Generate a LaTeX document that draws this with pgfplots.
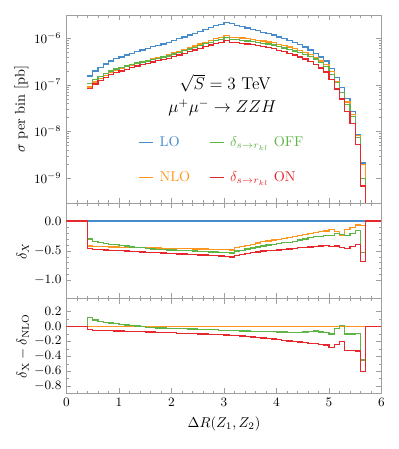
\documentclass[border=0pt]{standalone}
\usepackage{pgfplots}
\pgfplotsset{compat=1.18}
\usepackage{pgfplotstable}
\definecolor{cLO}{RGB}{70,140,205}
\definecolor{cNLO}{RGB}{255,150,30}
\definecolor{cOFF}{RGB}{95,180,70}
\definecolor{cON}{RGB}{230,40,45}

\pgfplotstableread{
x lo nlo off on
0.4 1.549e-7 8.98e-8 1.084e-7 8.36e-8
0.5 1.995e-7 1.147e-7 1.317e-7 1.047e-7
0.6 2.399e-7 1.367e-7 1.535e-7 1.247e-7
0.7 2.818e-7 1.606e-7 1.761e-7 1.451e-7
0.8 3.236e-7 1.828e-7 1.974e-7 1.650e-7
0.9 3.631e-7 2.052e-7 2.179e-7 1.834e-7
1.0 3.981e-7 2.229e-7 2.349e-7 1.991e-7
1.1 4.365e-7 2.444e-7 2.532e-7 2.161e-7
1.2 4.786e-7 2.656e-7 2.704e-7 2.345e-7
1.3 5.248e-7 2.913e-7 2.939e-7 2.545e-7
1.4 5.623e-7 3.093e-7 3.093e-7 2.699e-7
1.5 6.026e-7 3.314e-7 3.254e-7 2.862e-7
1.6 6.607e-7 3.601e-7 3.502e-7 3.105e-7
1.7 7.079e-7 3.858e-7 3.716e-7 3.292e-7
1.8 7.586e-7 4.096e-7 3.945e-7 3.490e-7
1.9 8.128e-7 4.389e-7 4.186e-7 3.698e-7
2.0 8.913e-7 4.813e-7 4.590e-7 4.055e-7
2.1 9.772e-7 5.228e-7 4.935e-7 4.349e-7
2.2 1.072e-6 5.735e-7 5.414e-7 4.770e-7
2.3 1.175e-6 6.286e-7 5.875e-7 5.170e-7
2.4 1.288e-6 6.826e-7 6.376e-7 5.603e-7
2.5 1.413e-6 7.489e-7 6.924e-7 6.076e-7
2.6 1.549e-6 8.210e-7 7.590e-7 6.661e-7
2.7 1.698e-6 8.915e-7 8.150e-7 7.132e-7
2.8 1.862e-6 9.776e-7 8.938e-7 7.727e-7
2.9 1.995e-6 1.037e-6 9.377e-7 8.180e-7
3.0 2.188e-6 1.138e-6 1.028e-6 8.861e-7
3.1 2.042e-6 1.052e-6 9.393e-7 8.066e-7
3.2 1.905e-6 1.048e-6 9.430e-7 8.096e-7
3.3 1.778e-6 1.013e-6 9.068e-7 7.823e-7
3.4 1.660e-6 9.794e-7 8.798e-7 7.553e-7
3.5 1.549e-6 9.449e-7 8.442e-7 7.280e-7
3.6 1.445e-6 9.104e-7 8.164e-7 6.936e-7
3.7 1.349e-6 8.769e-7 7.824e-7 6.678e-7
3.8 1.259e-6 8.372e-7 7.491e-7 6.295e-7
3.9 1.175e-6 7.990e-7 7.168e-7 5.993e-7
4.0 1.072e-6 7.450e-7 6.646e-7 5.521e-7
4.1 9.772e-7 6.938e-7 6.205e-7 5.130e-7
4.2 8.913e-7 6.462e-7 5.749e-7 4.724e-7
4.3 8.128e-7 6.015e-7 5.364e-7 4.389e-7
4.4 7.244e-7 5.505e-7 4.926e-7 3.984e-7
4.5 6.457e-7 5.004e-7 4.520e-7 3.584e-7
4.6 5.623e-7 4.442e-7 4.049e-7 3.177e-7
4.7 4.786e-7 3.853e-7 3.566e-7 2.752e-7
4.8 3.981e-7 3.264e-7 2.966e-7 2.309e-7
4.9 3.236e-7 2.702e-7 2.443e-7 1.893e-7
5.0 2.239e-7 1.914e-7 1.690e-7 1.287e-7
5.1 1.413e-7 1.159e-7 1.116e-7 8.195e-8
5.2 8.913e-8 6.774e-8 6.908e-8 4.991e-8
5.3 5.012e-8 4.310e-8 3.809e-8 2.706e-8
5.4 2.630e-8 2.341e-8 2.078e-8 1.499e-8
5.5 8.710e-9 8.144e-9 7.316e-9 5.270e-9
5.6 2.089e-9 1.922e-9 9.818e-10 6.685e-10
5.7 1e-15 1e-15 1e-15 1e-15
}\topdata

\pgfplotstableread{
x lo nlo off on
0.0 0 0 0 0
0.4 0 -0.42 -0.30 -0.46
0.5 0 -0.425 -0.34 -0.475
0.6 0 -0.43 -0.36 -0.48
0.7 0 -0.43 -0.375 -0.485
0.8 0 -0.435 -0.39 -0.49
0.9 0 -0.435 -0.40 -0.495
1.0 0 -0.44 -0.41 -0.50
1.1 0 -0.44 -0.42 -0.505
1.2 0 -0.445 -0.435 -0.51
1.3 0 -0.445 -0.44 -0.515
1.4 0 -0.45 -0.45 -0.52
1.5 0 -0.45 -0.46 -0.525
1.6 0 -0.455 -0.47 -0.53
1.7 0 -0.455 -0.475 -0.535
1.8 0 -0.46 -0.48 -0.54
1.9 0 -0.46 -0.485 -0.545
2.0 0 -0.46 -0.485 -0.545
2.1 0 -0.465 -0.495 -0.555
2.2 0 -0.465 -0.495 -0.555
2.3 0 -0.465 -0.50 -0.56
2.4 0 -0.47 -0.505 -0.565
2.5 0 -0.47 -0.51 -0.57
2.6 0 -0.47 -0.51 -0.57
2.7 0 -0.475 -0.52 -0.58
2.8 0 -0.475 -0.52 -0.585
2.9 0 -0.48 -0.53 -0.59
3.0 0 -0.48 -0.53 -0.595
3.1 0 -0.485 -0.54 -0.605
3.2 0 -0.45 -0.505 -0.575
3.3 0 -0.43 -0.49 -0.56
3.4 0 -0.41 -0.47 -0.545
3.5 0 -0.39 -0.455 -0.53
3.6 0 -0.37 -0.435 -0.52
3.7 0 -0.35 -0.42 -0.505
3.8 0 -0.335 -0.405 -0.50
3.9 0 -0.32 -0.39 -0.49
4.0 0 -0.305 -0.38 -0.485
4.1 0 -0.29 -0.365 -0.475
4.2 0 -0.275 -0.355 -0.47
4.3 0 -0.26 -0.34 -0.46
4.4 0 -0.24 -0.32 -0.45
4.5 0 -0.225 -0.30 -0.445
4.6 0 -0.21 -0.28 -0.435
4.7 0 -0.195 -0.255 -0.425
4.8 0 -0.18 -0.255 -0.42
4.9 0 -0.165 -0.245 -0.415
5.0 0 -0.145 -0.245 -0.425
5.1 0 -0.18 -0.21 -0.42
5.2 0 -0.24 -0.225 -0.44
5.3 0 -0.14 -0.24 -0.46
5.4 0 -0.11 -0.21 -0.43
5.5 0 -0.065 -0.16 -0.395
5.6 0 -0.08 -0.53 -0.68
5.7 0 0 0 0
6.0 0 0 0 0
}\middata

\pgfplotstableread{
x nlo off on
0.0 0 0 0
0.4 0 0.12 -0.04
0.5 0 0.085 -0.05
0.6 0 0.07 -0.05
0.7 0 0.055 -0.055
0.8 0 0.045 -0.055
0.9 0 0.035 -0.06
1.0 0 0.03 -0.06
1.1 0 0.02 -0.065
1.2 0 0.01 -0.065
1.3 0 0.005 -0.07
1.4 0 0.0 -0.07
1.5 0 -0.01 -0.075
1.6 0 -0.015 -0.075
1.7 0 -0.02 -0.08
1.8 0 -0.02 -0.08
1.9 0 -0.025 -0.085
2.0 0 -0.025 -0.085
2.1 0 -0.03 -0.09
2.2 0 -0.03 -0.09
2.3 0 -0.035 -0.095
2.4 0 -0.035 -0.095
2.5 0 -0.04 -0.1
2.6 0 -0.04 -0.1
2.7 0 -0.045 -0.105
2.8 0 -0.045 -0.11
2.9 0 -0.05 -0.11
3.0 0 -0.05 -0.115
3.1 0 -0.055 -0.12
3.2 0 -0.055 -0.125
3.3 0 -0.06 -0.13
3.4 0 -0.06 -0.135
3.5 0 -0.065 -0.14
3.6 0 -0.065 -0.15
3.7 0 -0.07 -0.155
3.8 0 -0.07 -0.165
3.9 0 -0.07 -0.17
4.0 0 -0.075 -0.18
4.1 0 -0.075 -0.185
4.2 0 -0.08 -0.195
4.3 0 -0.08 -0.2
4.4 0 -0.08 -0.21
4.5 0 -0.075 -0.22
4.6 0 -0.07 -0.225
4.7 0 -0.06 -0.23
4.8 0 -0.075 -0.24
4.9 0 -0.08 -0.25
5.0 0 -0.1 -0.28
5.1 0 -0.03 -0.24
5.2 0 0.015 -0.2
5.3 0 -0.1 -0.32
5.4 0 -0.1 -0.32
5.5 0 -0.095 -0.33
5.6 0 -0.45 -0.6
5.7 0 0 0
6.0 0 0 0
}\botdata

\begin{document}
\begin{tikzpicture}
\useasboundingbox (0,0) rectangle (279.3pt,314.3pt);
\pgfplotsset{common/.style={
  scale only axis, width=220.5pt,
  xmin=0, xmax=6, xtick={0,1,2,3,4,5,6}, minor x tick num=4,
  axis line style={gray!75}, tick style={gray!75},
  tick align=inside, major tick length=3.5pt, minor tick length=2pt,
  ticklabel style={font=\small},
  label style={font=\normalsize},
  ylabel shift=-3pt,
  every axis plot/.append style={line width=0.9pt},
}}

\begin{axis}[common, at={(46.55pt,303.8pt)}, anchor=north west, height=131.6pt,
  ymode=log, ymin=2.9e-10, ymax=3.16e-6, ytick={1e-9,1e-8,1e-7,1e-6},
  xticklabels={},
  ylabel={$\sigma$ per bin [pb]},
  legend columns=2, transpose legend, legend cell align=left,
  legend image code/.code={\draw[#1] (0pt,0pt) -- (10pt,0pt); \path (12pt,0pt);},
  legend style={draw=none, fill=none, at={(0.227,0.37)}, anchor=north west,
    inner sep=0pt, font=\normalsize, row sep=12pt,
    /tikz/every even column/.append style={column sep=11pt}},
]
\addplot[cLO, const plot] table[x=x,y=lo]{\topdata};
\addlegendentry{\textcolor{cLO}{LO}}
\addplot[cNLO, const plot] table[x=x,y=nlo]{\topdata};
\addlegendentry{\textcolor{cNLO}{NLO}}
\addplot[cOFF, const plot] table[x=x,y=off]{\topdata};
\addlegendentry{\textcolor{cOFF}{$\delta_{s\to r_{kl}}$ OFF}}
\addplot[cON, const plot] table[x=x,y=on]{\topdata};
\addlegendentry{\textcolor{cON}{$\delta_{s\to r_{kl}}$ ON}}
\node[font=\large] at (axis cs:3.02,1.1e-7) {$\sqrt{S}=3$ TeV};
\node[font=\large] at (axis cs:2.97,3.2e-8) {$\mu^+\mu^-\to ZZH$};
\end{axis}

\begin{axis}[common, at={(46.55pt,172.2pt)}, anchor=north west, height=66.85pt,
  ymin=-1.305, ymax=0.305, ytick={-1,-0.5,0}, minor y tick num=4,
  yticklabel style={/pgf/number format/.cd, fixed, fixed zerofill, precision=1},
  xticklabels={},
  ylabel={$\delta_X$},
]
\addplot[cLO, const plot] table[x=x,y=lo]{\middata};
\addplot[cNLO, const plot] table[x=x,y=nlo]{\middata};
\addplot[cOFF, const plot] table[x=x,y=off]{\middata};
\addplot[cON, const plot] table[x=x,y=on]{\middata};
\end{axis}

\begin{axis}[common, at={(46.55pt,105.35pt)}, anchor=north west, height=66.5pt,
  ymin=-0.9, ymax=0.375, ytick={-0.8,-0.6,-0.4,-0.2,0,0.2}, minor y tick num=1,
  yticklabel style={/pgf/number format/.cd, fixed, fixed zerofill, precision=1},
  ylabel={$\delta_{\mathrm{X}}-\delta_{\mathrm{NLO}}$},
  xlabel={$\Delta R(Z_1,Z_2)$},
]
\addplot[cNLO, const plot] table[x=x,y=nlo]{\botdata};
\addplot[cOFF, const plot] table[x=x,y=off]{\botdata};
\addplot[cON, const plot] table[x=x,y=on]{\botdata};
\end{axis}
\end{tikzpicture}
\end{document}
